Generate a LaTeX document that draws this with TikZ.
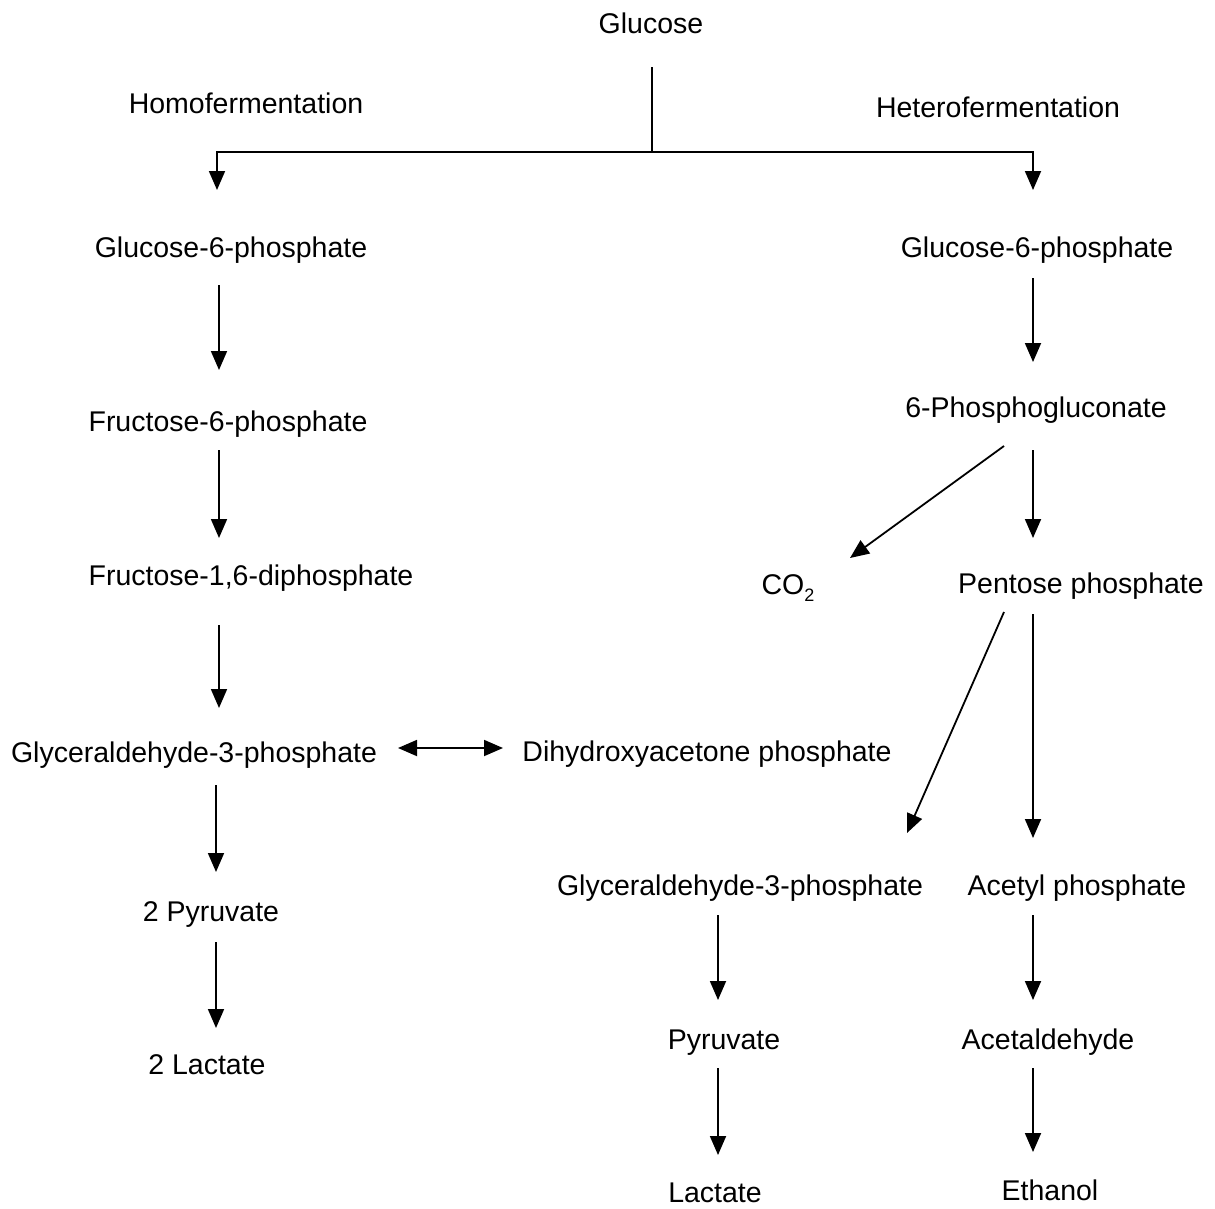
\documentclass[tikz,border=0pt]{standalone}
\usepackage{fontspec}
\setmainfont{Liberation Sans}
\usetikzlibrary{arrows.meta,calc}
\tikzset{
  lbl/.style={anchor=base,inner sep=0pt,font=\fontsize{28.5}{34}\selectfont},
  arr/.style={line width=1.8pt,-{Triangle[width=16pt,length=19pt]}},
  darr/.style={line width=1.8pt,{Triangle[width=16pt,length=19pt]}-{Triangle[width=16pt,length=19pt]}},
  ln/.style={line width=1.8pt}
}
\begin{document}
\begin{tikzpicture}[x=1pt,y=-1pt]
\useasboundingbox (0,0) rectangle (1215,1208);
% nodes
\node[lbl] (glu) at (651,33) {Glucose};
\node[lbl] (homo) at (246,113) {Homofermentation};
\node[lbl] (hetero) at (998,117) {Heterofermentation};
\node[lbl] (g6pL) at (231,257) {Glucose-6-phosphate};
\node[lbl] (g6pR) at (1037,257) {Glucose-6-phosphate};
\node[lbl] (f6p) at (228,431) {Fructose-6-phosphate};
\node[lbl] (f16) at (251,585) {Fructose-1,6-diphosphate};
\node[lbl] (ga3pL) at (194,762) {Glyceraldehyde-3-phosphate};
\node[lbl] (dhap) at (707,761) {Dihydroxyacetone phosphate};
\node[lbl] (pyr2) at (211,921) {2 Pyruvate};
\node[lbl] (lac2) at (207,1074) {2 Lactate};
\node[lbl] (pg6) at (1036,417) {6-Phosphogluconate};
\node[lbl] (co2) at (788,594) {CO\raisebox{-7pt}{\fontsize{18}{20}\selectfont 2}};
\node[lbl] (pent) at (1081,593) {Pentose phosphate};
\node[lbl] (ga3pR) at (740,895) {Glyceraldehyde-3-phosphate};
\node[lbl] (acp) at (1077,895) {Acetyl phosphate};
\node[lbl] (pyr) at (724,1049) {Pyruvate};
\node[lbl] (lac) at (715,1202) {Lactate};
\node[lbl] (acet) at (1048,1049) {Acetaldehyde};
\node[lbl] (eth) at (1050,1200) {Ethanol};
\coordinate (cL) at (219,0);
\coordinate (cL2) at (216,0);
\coordinate (cR) at (1033,0);
\coordinate (cM) at (718,0);
% top split
\coordinate (j) at ($(glu.base)+(1,119)$);
\draw[ln] ($(glu.base)+(1,34)$) -- (j);
\draw[arr] (j) -| ($(g6pL.base)+(-14,-67)$);
\draw[arr] (j) -| ($(g6pR.base)+(-4,-67)$);
% left column
\draw[arr] ($(g6pL.base -| cL)+(0,28)$) -- ($(f6p.base -| cL)+(0,-61)$);
\draw[arr] ($(f6p.base -| cL)+(0,19)$) -- ($(f16.base -| cL)+(0,-47)$);
\draw[arr] ($(f16.base -| cL)+(0,40)$) -- ($(ga3pL.base -| cL)+(0,-54)$);
\draw[arr] ($(ga3pL.base -| cL2)+(0,23)$) -- ($(pyr2.base -| cL2)+(0,-49)$);
\draw[arr] ($(pyr2.base -| cL2)+(0,21)$) -- ($(lac2.base -| cL2)+(0,-46)$);
\draw[darr] ($(ga3pL.base)+(204,-14)$) -- ($(dhap.base)+(-204,-13)$);
% right column
\draw[arr] ($(g6pR.base -| cR)+(0,21)$) -- ($(pg6.base -| cR)+(0,-55)$);
\draw[arr] ($(pg6.base)+(-32,29)$) -- ($(co2.base)+(62,-36)$);
\draw[arr] ($(pg6.base -| cR)+(0,33)$) -- ($(pent.base -| cR)+(0,-55)$);
\draw[arr] ($(pent.base)+(-77,19)$) -- ($(ga3pR.base)+(167,-62)$);
\draw[arr] ($(pent.base -| cR)+(0,21)$) -- ($(acp.base -| cR)+(0,-57)$);
\draw[arr] ($(ga3pR.base -| cM)+(0,20)$) -- ($(pyr.base -| cM)+(0,-49)$);
\draw[arr] ($(pyr.base -| cM)+(0,19)$) -- ($(lac.base -| cM)+(0,-47)$);
\draw[arr] ($(acp.base -| cR)+(0,20)$) -- ($(acet.base -| cR)+(0,-49)$);
\draw[arr] ($(acet.base -| cR)+(0,19)$) -- ($(eth.base -| cR)+(0,-48)$);
\end{tikzpicture}
\end{document}
